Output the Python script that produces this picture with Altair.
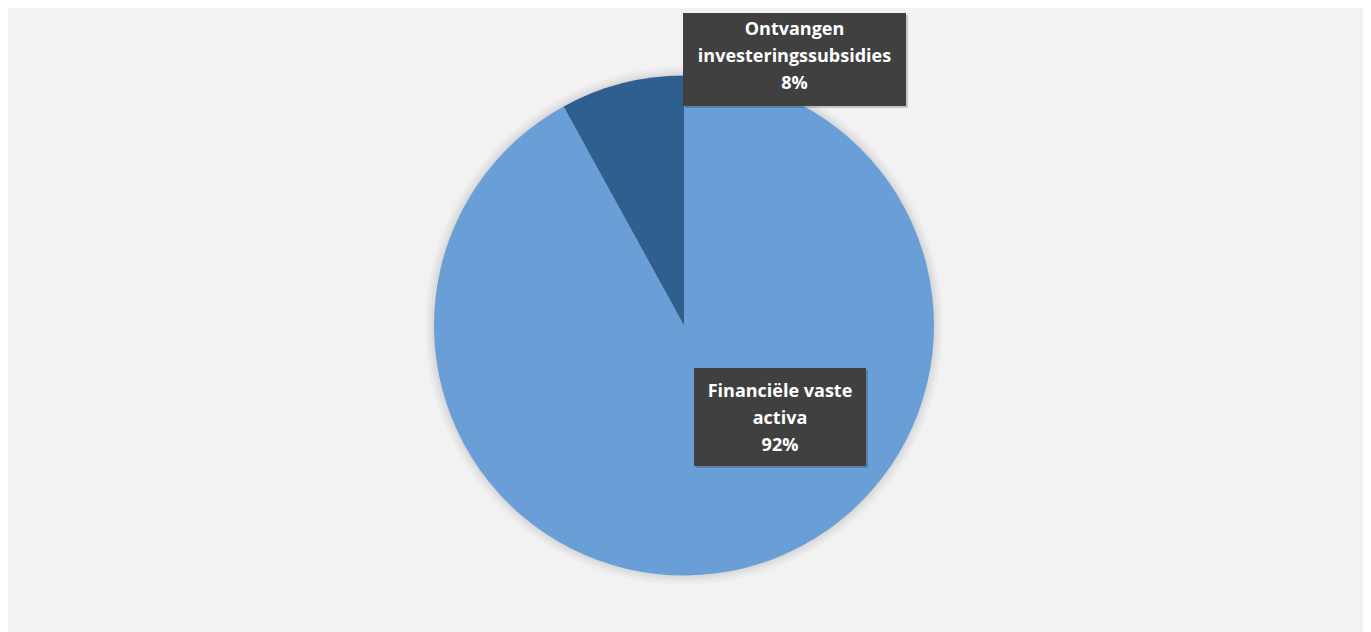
import altair as alt
import pandas as pd

# Data
categories = ["Financiële vaste activa", "Ontvangen investeringssubsidies"]
values = [92, 8]
label_text = ["Financiële vaste\nactiva", "Ontvangen\ninvesteringssubsidies"]
colors = ["#699ED6", "#2F5F8F"]

# Layout (pixels, chart coordinates)
W, H = 1355, 624
CX, CY, R = 676, 317.5, 250
box_cx = [772, 786.5]
box_cy = [409, 51.5]
box_w = [172, 223]
box_h = [98, 93]
text_mid = [411, 49]
LINE_H = 27

df = pd.DataFrame({"cat": categories, "value": values, "order": [0, 1]})
total = sum(values)
df["label"] = [
    f"{t}\n{round(v / total * 100)}%" for t, v in zip(label_text, values)
]
df["x1"] = [c - w / 2 for c, w in zip(box_cx, box_w)]
df["x2"] = [c + w / 2 for c, w in zip(box_cx, box_w)]
df["y1"] = [c - h / 2 for c, h in zip(box_cy, box_h)]
df["y2"] = [c + h / 2 for c, h in zip(box_cy, box_h)]
df["tx"] = box_cx
df["ty"] = [m - LINE_H for m in text_mid]

base = alt.Chart(df)

shadows = [
    alt.Chart(df.head(1)).mark_arc(
        theta=0, theta2=6.2832, radius=R + k, color="#000000", opacity=0.025, stroke=None
    ).encode(x=alt.value(CX), y=alt.value(CY))
    for k in (2, 4, 6, 9)
]

pie = base.mark_arc(radius=R, stroke=None).encode(
    theta=alt.Theta("value:Q", stack=True),
    color=alt.Color("cat:N", scale=alt.Scale(domain=categories, range=colors), legend=None),
    order=alt.Order("order:Q"),
    x=alt.value(CX),
    y=alt.value(CY),
)

box_shadow = base.mark_rect(color="#000000", opacity=0.18).encode(
    x=alt.X("sx1:Q", scale=None),
    x2="sx2:Q",
    y=alt.Y("sy1:Q", scale=None),
    y2="sy2:Q",
).transform_calculate(
    sx1="datum.x1 + 2", sx2="datum.x2 + 2", sy1="datum.y1 + 2", sy2="datum.y2 + 2"
)

boxes = base.mark_rect(color="#404040").encode(
    x=alt.X("x1:Q", scale=None),
    x2="x2:Q",
    y=alt.Y("y1:Q", scale=None),
    y2="y2:Q",
)

texts = base.mark_text(
    font="Open Sans",
    fontWeight="bold",
    fontSize=18,
    color="#FFFFFF",
    lineBreak="\n",
    lineHeight=LINE_H,
    align="center",
    baseline="middle",
).encode(
    x=alt.X("tx:Q", scale=None),
    y=alt.Y("ty:Q", scale=None),
    text="label:N",
)

chart = alt.layer(*shadows, pie, box_shadow, boxes, texts).properties(
    width=W,
    height=H,
    padding=0,
    autosize="none",
    background="#F2F2F2",
).configure_view(stroke=None)

chart.save("out.html", embed_options={"renderer": "svg", "actions": False})
